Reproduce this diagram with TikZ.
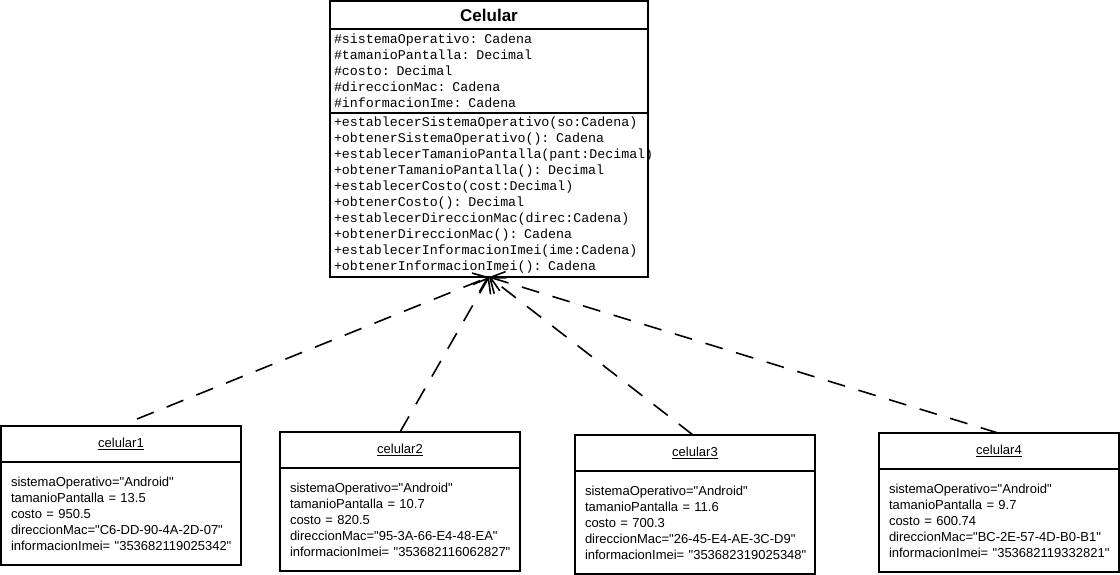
\documentclass[tikz,border=0pt]{standalone}
\usepackage{fontspec}
\setmainfont{Liberation Sans}[Ligatures=TeXOff]
\setmonofont{Liberation Mono}
\usetikzlibrary{arrows.meta,calc,positioning}
\newcommand{\clswidth}{318pt}
\newcommand{\objwidth}{240pt}
\newcommand{\clsfont}{\fontsize{13.3}{16}\selectfont\ttfamily}
\newcommand{\objfont}{\fontsize{13}{16}\selectfont}
\tikzset{
  part/.style={draw,line width=1.6pt,shape=rectangle,outer sep=0,inner sep=0},
  clstitle/.style={part,minimum width=\clswidth,minimum height=28pt,font=\fontsize{17}{20}\selectfont\bfseries},
  clsbody/.style={part,text width=310pt,inner xsep=4pt,align=left,font=\clsfont},
  objhead/.style={part,minimum width=\objwidth,minimum height=36pt,font=\objfont},
  objbody/.style={part,text width=220pt,inner xsep=10pt,align=left,minimum height=103pt,font=\objfont},
  dep/.style={draw,line width=1.6pt,dash pattern=on 18pt off 14pt,-{Straight Barb[length=13pt,width=20pt]}},
}
\begin{document}
\begin{tikzpicture}[x=1pt,y=-1pt]
  \useasboundingbox (0,0) rectangle (1120,575);
  % class
  \node (title) [clstitle,anchor=north] at (489,1) {Celular};
  \node (attrs) [clsbody,minimum height=84pt,below=0pt of title] {\#sistemaOperativo: Cadena\\
    \#tamanioPantalla: Decimal\\
    \#costo: Decimal\\
    \#direccionMac: Cadena\\
    \#informacionIme: Cadena};
  \node (meths) [clsbody,minimum height=164pt,below=0pt of attrs] {+establecerSistemaOperativo(so:Cadena)\\
    +obtenerSistemaOperativo(): Cadena\\
    +establecerTamanioPantalla(pant:Decimal)\\
    +obtenerTamanioPantalla(): Decimal\\
    +establecerCosto(cost:Decimal)\\
    +obtenerCosto(): Decimal\\
    +establecerDireccionMac(direc:Cadena)\\
    +obtenerDireccionMac(): Cadena\\
    +establecerInformacionImei(ime:Cadena)\\
    +obtenerInformacionImei(): Cadena};
  % objects
  \node (head1) [objhead,anchor=north west] at (1,426) {\underline{celular1}};
  \node (body1) [objbody,below=0pt of head1] {sistemaOperativo="Android"\\
    tamanioPantalla = 13.5\\
    costo = 950.5\\
    direccionMac="C6-DD-90-4A-2D-07"\\
    informacionImei=~"353682119025342"};
  \node (head2) [objhead,anchor=north west] at (280,432) {\underline{celular2}};
  \node (body2) [objbody,below=0pt of head2] {sistemaOperativo="Android"\\
    tamanioPantalla = 10.7\\
    costo = 820.5\\
    direccionMac="95-3A-66-E4-48-EA"\\
    informacionImei=~"353682116062827"};
  \node (head3) [objhead,anchor=north west] at (575,435) {\underline{celular3}};
  \node (body3) [objbody,below=0pt of head3] {sistemaOperativo="Android"\\
    tamanioPantalla = 11.6\\
    costo = 700.3\\
    direccionMac="26-45-E4-AE-3C-D9"\\
    informacionImei=~"353682319025348"};
  \node (head4) [objhead,anchor=north west] at (879,433) {\underline{celular4}};
  \node (body4) [objbody,below=0pt of head4] {sistemaOperativo="Android"\\
    tamanioPantalla = 9.7\\
    costo = 600.74\\
    direccionMac="BC-2E-57-4D-B0-B1"\\
    informacionImei=~"353682119332821"};
  % dependencies
  \coordinate (from1) at ($(head1.north)+(16,-7)$);
  \path [dep] (from1) -- (meths.south);
  \path [dep] (head2.north) -- (meths.south);
  \path [dep] ($(head3.north)+(-2,0)$) -- (meths.south);
  \path [dep] ($(head4.north)+(-1,0)$) -- (meths.south);
\end{tikzpicture}
\end{document}
